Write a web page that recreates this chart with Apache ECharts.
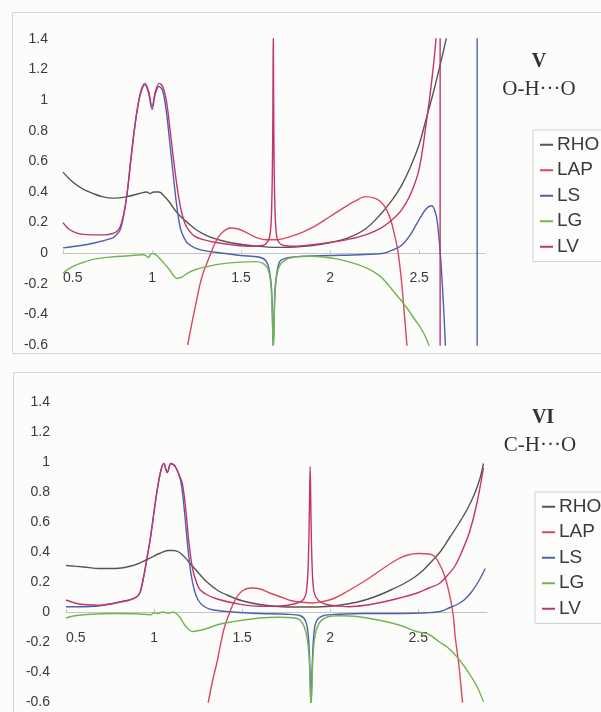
<!DOCTYPE html>
<html>
<head>
<meta charset="utf-8">
<script src="https://cdn.jsdelivr.net/npm/echarts@6/dist/echarts.min.js"></script>
<style>html,body{margin:0;padding:0;background:#fcfcfa;}#c{width:601px;height:712px;}</style>
</head>
<body>
<div id="c"></div>
<script>
// ---------- shared ----------
const seriesNames = ['RHO', 'LAP', 'LS', 'LG', 'LV'];
const yTicks = [-0.6, -0.4, -0.2, 0, 0.2, 0.4, 0.6, 0.8, 1, 1.2, 1.4];
const xTicks = [0.5, 1, 1.5, 2, 2.5];
const panelTitles = ['V', 'VI'];
const panelSubtitles = ['O-H\u00B7\u00B7\u00B7O', 'C-H\u00B7\u00B7\u00B7O'];

// ---------- panel V (O-H...O) ----------
const vRhoX = [0.5,0.55,0.61,0.67,0.72,0.78,0.86,0.93,0.97,0.99,1.01,1.04,1.07,1.1,1.13,1.16,1.2,1.24,1.29,1.34,1.4,1.46,1.52,1.58,1.65,1.72,1.8,1.9,2.0,2.1,2.2,2.28,2.35,2.4,2.45,2.5,2.54,2.58,2.62,2.66,2.69];
const vRhoY = [0.53,0.47,0.42,0.39,0.37,0.36,0.37,0.39,0.40,0.39,0.40,0.40,0.37,0.33,0.28,0.24,0.2,0.16,0.125,0.1,0.08,0.065,0.055,0.047,0.04,0.038,0.04,0.05,0.07,0.1,0.16,0.25,0.35,0.44,0.56,0.71,0.88,1.05,1.24,1.44,1.6];

const vLapX = [1.2,1.225,1.25,1.27,1.29,1.31,1.33,1.36,1.39,1.44,1.48,1.53,1.58,1.64,1.7,1.78,1.85,1.92,2.0,2.08,2.14,2.2,2.25,2.28,2.31,2.34,2.36,2.38,2.4,2.415,2.43,2.44];
const vLapY = [-0.6,-0.45,-0.31,-0.2,-0.12,-0.06,0.0,0.08,0.13,0.165,0.16,0.135,0.105,0.088,0.088,0.11,0.14,0.18,0.24,0.3,0.34,0.37,0.36,0.34,0.3,0.22,0.13,0.02,-0.17,-0.37,-0.58,-0.75];

const vLsX = [0.5,0.6,0.67,0.72,0.78,0.8,0.82,0.84,0.86,0.88,0.9,0.92,0.94,0.96,0.98,1.0,1.02,1.04,1.06,1.08,1.1,1.12,1.14,1.16,1.18,1.2,1.24,1.3,1.4,1.5,1.6,1.64,1.66,1.672,1.681,1.69,1.702,1.72,1.76,1.85,2.0,2.15,2.3,2.35,2.4,2.45,2.5,2.54,2.57,2.595,2.61,2.622,2.635,2.646,2.655,2.7,2.826,2.826];
const vLsY = [0.035,0.05,0.065,0.08,0.1,0.12,0.15,0.24,0.39,0.6,0.8,0.96,1.06,1.1,1.05,0.94,1.05,1.09,1.06,0.93,0.72,0.5,0.3,0.16,0.1,0.065,0.035,0.015,0.0,-0.015,-0.025,-0.05,-0.12,-0.25,-0.62,-0.25,-0.12,-0.05,-0.03,-0.02,-0.015,-0.01,0.0,0.02,0.05,0.12,0.22,0.29,0.31,0.25,0.12,-0.05,-0.3,-0.56,-0.8,null,-0.8,1.6];

const vLgX = [0.5,0.55,0.6,0.67,0.76,0.85,0.92,0.95,0.97,0.98,0.99,1.0,1.02,1.04,1.07,1.1,1.12,1.14,1.17,1.2,1.25,1.3,1.36,1.42,1.5,1.58,1.62,1.65,1.667,1.675,1.681,1.687,1.695,1.71,1.74,1.8,1.9,2.0,2.1,2.2,2.28,2.35,2.42,2.48,2.52,2.545,2.56];
const vLgY = [-0.13,-0.09,-0.065,-0.04,-0.026,-0.018,-0.012,-0.01,-0.02,-0.03,-0.01,-0.003,-0.01,-0.03,-0.07,-0.11,-0.145,-0.165,-0.155,-0.13,-0.105,-0.09,-0.075,-0.065,-0.058,-0.055,-0.065,-0.1,-0.2,-0.38,-0.62,-0.38,-0.2,-0.1,-0.05,-0.025,-0.02,-0.03,-0.055,-0.095,-0.15,-0.24,-0.34,-0.44,-0.51,-0.57,-0.62];

const vLvX = [0.5,0.53,0.56,0.6,0.67,0.74,0.78,0.8,0.82,0.84,0.86,0.88,0.9,0.92,0.94,0.96,0.98,1.0,1.02,1.04,1.06,1.08,1.1,1.12,1.14,1.16,1.18,1.2,1.24,1.3,1.36,1.45,1.55,1.62,1.65,1.665,1.673,1.678,1.681,1.684,1.689,1.697,1.71,1.74,1.8,1.9,2.0,2.1,2.2,2.28,2.35,2.4,2.45,2.5,2.54,2.57,2.596,2.605,2.61,2.618,2.618];
const vLvY = [0.2,0.16,0.14,0.125,0.12,0.12,0.13,0.14,0.17,0.25,0.39,0.6,0.8,0.96,1.07,1.11,1.06,0.96,1.06,1.11,1.09,1.0,0.82,0.62,0.44,0.3,0.21,0.16,0.11,0.085,0.07,0.055,0.045,0.05,0.075,0.14,0.35,0.8,1.45,0.8,0.35,0.14,0.075,0.05,0.045,0.055,0.07,0.09,0.12,0.16,0.22,0.28,0.38,0.55,0.85,1.12,1.42,1.7,null,1.6,-0.8];

// ---------- panel VI (C-H...O) ----------
const wRhoX = [0.5,0.6,0.69,0.78,0.88,0.96,1.03,1.08,1.11,1.14,1.17,1.2,1.23,1.26,1.3,1.36,1.42,1.5,1.6,1.73,1.85,1.95,2.05,2.15,2.25,2.35,2.45,2.52,2.57,2.63,2.68,2.73,2.78,2.82,2.85,2.87];
const wRhoY = [0.31,0.3,0.29,0.29,0.31,0.35,0.39,0.41,0.41,0.4,0.37,0.33,0.29,0.25,0.2,0.145,0.11,0.075,0.05,0.035,0.033,0.035,0.045,0.065,0.1,0.15,0.21,0.27,0.33,0.41,0.5,0.59,0.69,0.79,0.89,0.99];

const wLapX = [1.305,1.33,1.36,1.38,1.4,1.43,1.46,1.5,1.55,1.6,1.66,1.72,1.78,1.84,1.9,1.96,2.02,2.1,2.2,2.3,2.38,2.44,2.5,2.57,2.6,2.62,2.64,2.66,2.68,2.69,2.7,2.71,2.73,2.75,2.755];
const wLapY = [-0.62,-0.47,-0.32,-0.2,-0.1,0.0,0.08,0.14,0.16,0.155,0.125,0.1,0.075,0.065,0.06,0.07,0.09,0.14,0.21,0.29,0.35,0.38,0.39,0.385,0.36,0.32,0.27,0.2,0.1,0.04,-0.04,-0.17,-0.35,-0.59,-0.65];

const wLsX = [0.5,0.6,0.68,0.76,0.82,0.86,0.9,0.92,0.94,0.96,0.98,1.0,1.02,1.04,1.055,1.075,1.095,1.12,1.15,1.17,1.19,1.21,1.23,1.25,1.28,1.33,1.45,1.6,1.75,1.83,1.86,1.875,1.884,1.891,1.898,1.907,1.922,1.96,2.05,2.2,2.4,2.55,2.63,2.68,2.72,2.76,2.8,2.84,2.88];
const wLsY = [0.035,0.035,0.04,0.055,0.07,0.08,0.1,0.13,0.23,0.36,0.5,0.67,0.83,0.95,0.99,0.93,0.99,0.97,0.88,0.7,0.45,0.25,0.14,0.08,0.04,0.015,0.0,-0.01,-0.015,-0.025,-0.06,-0.15,-0.35,-0.62,-0.35,-0.15,-0.06,-0.025,-0.015,-0.01,-0.01,-0.005,0.005,0.03,0.05,0.08,0.13,0.2,0.29];

const wLgX = [0.5,0.55,0.6,0.7,0.8,0.9,0.98,1.0,1.02,1.05,1.08,1.11,1.13,1.15,1.17,1.2,1.22,1.25,1.3,1.36,1.42,1.5,1.6,1.7,1.8,1.84,1.865,1.88,1.891,1.902,1.915,1.94,1.98,2.05,2.15,2.3,2.4,2.49,2.56,2.62,2.67,2.72,2.76,2.8,2.835,2.87];
const wLgY = [-0.04,-0.025,-0.018,-0.012,-0.01,-0.012,-0.018,-0.005,-0.01,0.0,-0.008,0.0,-0.015,-0.04,-0.08,-0.12,-0.13,-0.125,-0.11,-0.085,-0.07,-0.055,-0.04,-0.035,-0.04,-0.07,-0.15,-0.3,-0.63,-0.3,-0.15,-0.07,-0.035,-0.025,-0.03,-0.06,-0.09,-0.13,-0.15,-0.2,-0.24,-0.3,-0.36,-0.43,-0.5,-0.6];

const wLvX = [0.5,0.55,0.6,0.68,0.76,0.82,0.86,0.9,0.92,0.94,0.96,0.98,1.0,1.02,1.04,1.055,1.075,1.095,1.12,1.14,1.16,1.18,1.2,1.22,1.24,1.26,1.3,1.35,1.45,1.6,1.72,1.8,1.845,1.865,1.876,1.882,1.886,1.89,1.896,1.907,1.93,1.98,2.05,2.11,2.2,2.3,2.4,2.49,2.56,2.62,2.67,2.71,2.75,2.79,2.83,2.87];
const wLvY = [0.08,0.06,0.05,0.045,0.055,0.07,0.08,0.1,0.13,0.23,0.36,0.5,0.67,0.83,0.95,0.99,0.93,0.99,0.97,0.92,0.86,0.68,0.44,0.28,0.2,0.15,0.115,0.09,0.06,0.038,0.04,0.055,0.08,0.14,0.35,0.7,0.97,0.7,0.35,0.14,0.08,0.05,0.04,0.035,0.045,0.067,0.095,0.125,0.16,0.19,0.25,0.31,0.41,0.53,0.71,0.96];

// ---------- build ----------
const colors = { RHO: '#555555', LAP: '#d9475c', LS: '#4f5fb0', LG: '#72b455', LV: '#c43270' };
const panels = [
  { RHO: [vRhoX, vRhoY], LAP: [vLapX, vLapY], LS: [vLsX, vLsY], LG: [vLgX, vLgY], LV: [vLvX, vLvY] },
  { RHO: [wRhoX, wRhoY], LAP: [wLapX, wLapY], LS: [wLsX, wLsY], LG: [wLgX, wLgY], LV: [wLvX, wLvY] }
];
const gridBoxes = [
  { left: 63, top: 39, width: 422, height: 306, xMax: 2.87, labelMargin: 18 },
  { left: 66, top: 402, width: 421, height: 300, xMax: 2.89, labelMargin: 19 }
];

const series = [];
panels.forEach((p, gi) => {
  seriesNames.forEach(name => {
    const [xs, ys] = p[name];
    series.push({
      name: name, type: 'line', xAxisIndex: gi, yAxisIndex: gi,
      data: xs.map((x, i) => [x, ys[i]]),
      showSymbol: false, smooth: 0.35, clip: true,
      lineStyle: { color: colors[name], width: 1.4 },
      itemStyle: { color: colors[name] },
      emphasis: { disabled: true }
    });
  });
});

const yMin = yTicks[0], yMax = yTicks[yTicks.length - 1];
const font = '"Liberation Sans", Arial, sans-serif';
const chart = echarts.init(document.getElementById('c'), null, { renderer: 'canvas' });
chart.setOption({
  animation: false,
  backgroundColor: '#fcfcfa',
  grid: gridBoxes.map(g => ({ left: g.left, top: g.top, width: g.width, height: g.height, containLabel: false })),
  xAxis: gridBoxes.map((g, gi) => ({
    type: 'value', gridIndex: gi, min: xTicks[0], max: g.xMax, interval: xTicks[1] - xTicks[0],
    position: 'bottom',
    // lift the axis (line + labels) from the grid bottom to the y = 0 level
    offset: -g.height * (0 - yMin) / (yMax - yMin),
    axisLine: { show: true, onZero: false, lineStyle: { color: '#c4c4c4', width: 1 } },
    axisTick: { show: true, inside: true, length: 3, lineStyle: { color: '#c4c4c4' } },
    splitLine: { show: false },
    axisLabel: { show: true, fontSize: 14, fontFamily: font, color: '#3a3a3a', margin: g.labelMargin,
      showMaxLabel: false, alignMinLabel: 'left',
      formatter: v => (xTicks.indexOf(+v.toFixed(2)) >= 0 ? String(+v.toFixed(2)) : '') }
  })),
  yAxis: gridBoxes.map((g, gi) => ({
    type: 'value', gridIndex: gi, min: yMin, max: yMax,
    interval: +(yTicks[1] - yTicks[0]).toFixed(2),
    axisLine: { show: false }, axisTick: { show: false }, splitLine: { show: false },
    axisLabel: { show: true, fontSize: 14, fontFamily: font, color: '#3a3a3a', margin: gi === 0 ? 15 : 16,
      formatter: v => String(+v.toFixed(2)) }
  })),
  legend: [
    { top: 130, left: 533 },
    { top: 492, left: 535 }
  ].map(pos => ({
    data: seriesNames, orient: 'vertical', top: pos.top, left: pos.left,
    icon: 'rect', itemWidth: 13, itemHeight: 2, itemGap: 6, selectedMode: false,
    padding: [5, 10, 5, 7], borderColor: '#cfcfcf', borderWidth: 1, backgroundColor: '#fdfdfc',
    textStyle: { fontSize: 19, lineHeight: 19.5, fontFamily: font, color: '#3a3a3a', padding: [0, 0, 0, -1] }
  })),
  graphic: [
    { type: 'rect', silent: true, z: -10, shape: { x: 12.5, y: 12.5, width: 620, height: 341 }, style: { fill: 'none', stroke: '#d6d6d6', lineWidth: 1 } },
    { type: 'rect', silent: true, z: -10, shape: { x: 13.5, y: 372.5, width: 620, height: 360 }, style: { fill: 'none', stroke: '#d6d6d6', lineWidth: 1 } },
    { type: 'text', silent: true, style: { text: panelTitles[0], x: 539, y: 62, textAlign: 'center', textVerticalAlign: 'middle', font: 'bold 20px "Liberation Serif", serif', fill: '#333' } },
    { type: 'text', silent: true, style: { text: panelSubtitles[0], x: 539, y: 89, textAlign: 'center', textVerticalAlign: 'middle', font: '21px "Liberation Serif", serif', fill: '#333' } },
    { type: 'text', silent: true, style: { text: panelTitles[1], x: 543, y: 418, textAlign: 'center', textVerticalAlign: 'middle', font: 'bold 20px "Liberation Serif", serif', fill: '#333' } },
    { type: 'text', silent: true, style: { text: panelSubtitles[1], x: 540, y: 445, textAlign: 'center', textVerticalAlign: 'middle', font: '21px "Liberation Serif", serif', fill: '#333' } }
  ],
  series: series
});
</script>
</body>
</html>
